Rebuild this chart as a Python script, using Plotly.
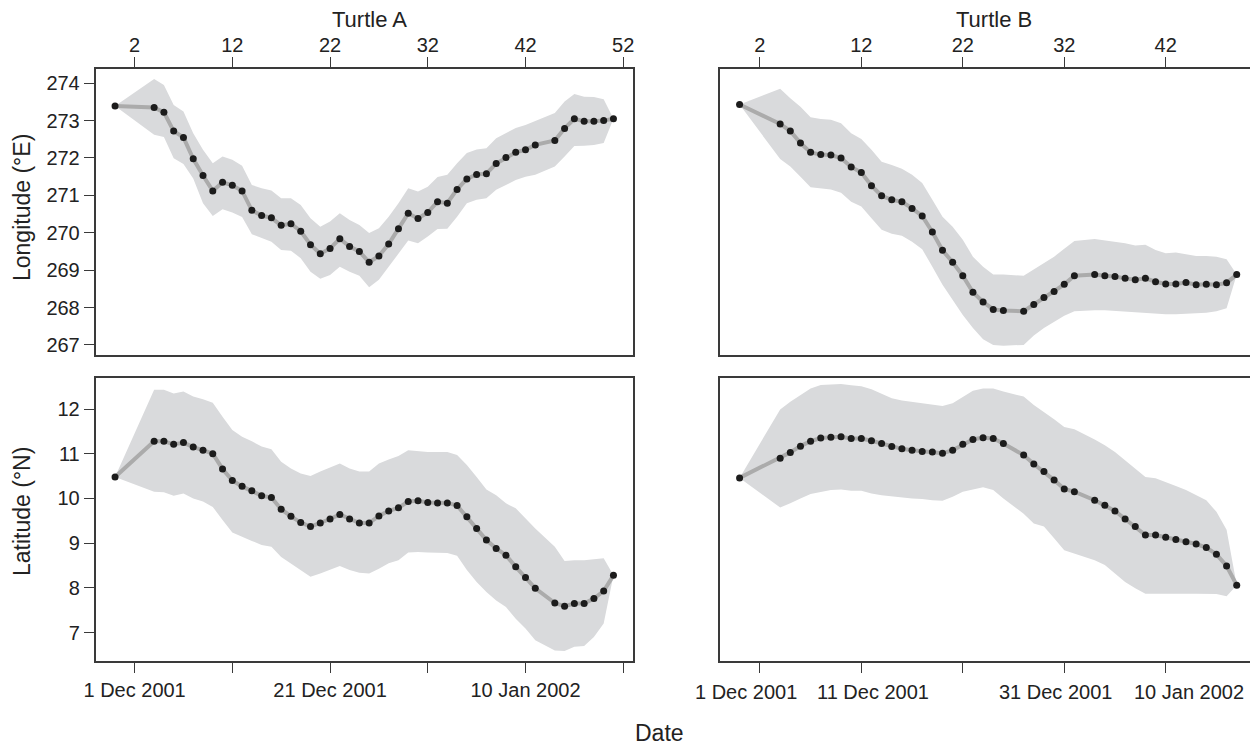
import plotly.graph_objects as go

# ---------------- data ----------------
days_A = [0, 4, 5, 6, 7, 8, 9, 10, 11, 12, 13, 14, 15, 16, 17, 18, 19, 20, 21, 22, 23, 24, 25, 26,
          27, 28, 29, 30, 31, 32, 33, 34, 35, 36, 37, 38, 39, 40, 41, 42, 43, 45, 46, 47, 48, 49, 50, 51]
lon_A = [273.39, 273.35, 273.22, 272.72, 272.55, 271.98, 271.53, 271.12, 271.35, 271.27, 271.12, 270.60,
         270.46, 270.40, 270.20, 270.24, 270.04, 269.68, 269.44, 269.58, 269.84, 269.63, 269.50, 269.21,
         269.38, 269.70, 270.11, 270.52, 270.38, 270.54, 270.83, 270.79, 271.16, 271.44, 271.56, 271.58,
         271.85, 272.01, 272.15, 272.22, 272.35, 272.47, 272.79, 273.05, 272.98, 272.98, 273.00, 273.05]
lon_A_hi = [273.39, 274.11, 273.95, 273.42, 273.24, 272.66, 272.22, 271.86, 272.04, 271.95, 271.79, 271.28,
            271.19, 271.13, 270.92, 270.92, 270.74, 270.39, 270.16, 270.30, 270.52, 270.34, 270.21, 269.99,
            270.12, 270.43, 270.79, 271.19, 271.10, 271.23, 271.49, 271.55, 271.86, 272.13, 272.23, 272.26,
            272.53, 272.66, 272.80, 272.88, 272.99, 273.20, 273.51, 273.71, 273.64, 273.63, 273.57, 273.05]
lon_A_lo = [273.39, 272.62, 272.56, 271.99, 271.84, 271.45, 270.79, 270.45, 270.63, 270.54, 270.42, 269.96,
            269.85, 269.76, 269.54, 269.52, 269.32, 268.96, 268.77, 268.87, 269.09, 268.96, 268.85, 268.54,
            268.74, 269.09, 269.45, 269.79, 269.72, 269.90, 270.10, 270.11, 270.43, 270.79, 270.88, 270.92,
            271.15, 271.28, 271.41, 271.50, 271.55, 271.77, 272.04, 272.32, 272.33, 272.35, 272.40, 273.05]
lat_A = [10.48, 11.28, 11.28, 11.21, 11.25, 11.15, 11.08, 11.00, 10.66, 10.40, 10.27, 10.17,
         10.06, 10.02, 9.76, 9.60, 9.46, 9.37, 9.45, 9.54, 9.64, 9.54, 9.45, 9.45,
         9.61, 9.72, 9.79, 9.93, 9.95, 9.91, 9.90, 9.90, 9.84, 9.59, 9.33, 9.07,
         8.88, 8.73, 8.47, 8.23, 7.99, 7.66, 7.59, 7.65, 7.65, 7.76, 7.93, 8.28]
lat_A_hi = [10.48, 12.43, 12.43, 12.35, 12.39, 12.28, 12.22, 12.14, 11.83, 11.53, 11.38, 11.28,
            11.16, 11.10, 10.82, 10.67, 10.56, 10.50, 10.60, 10.69, 10.78, 10.67, 10.60, 10.60,
            10.78, 10.87, 10.95, 11.08, 11.06, 11.04, 11.04, 11.04, 10.97, 10.75, 10.48, 10.20,
            10.07, 9.89, 9.78, 9.55, 9.33, 8.92, 8.60, 8.62, 8.62, 8.64, 8.66, 8.28]
lat_A_lo = [10.48, 10.15, 10.14, 10.06, 10.11, 10.00, 9.93, 9.81, 9.52, 9.24, 9.14, 9.05,
            8.96, 8.92, 8.69, 8.55, 8.40, 8.25, 8.32, 8.40, 8.49, 8.40, 8.34, 8.32,
            8.43, 8.55, 8.62, 8.79, 8.80, 8.79, 8.78, 8.78, 8.72, 8.40, 8.13, 7.91,
            7.72, 7.57, 7.31, 7.09, 6.83, 6.60, 6.59, 6.68, 6.70, 6.90, 7.20, 8.28]

days_B = [0, 4, 5, 6, 7, 8, 9, 10, 11, 12, 13, 14, 15, 16, 17, 18, 19, 20, 21, 22, 23, 24, 25, 26,
          28, 29, 30, 31, 32, 33, 35, 36, 37, 38, 39, 40, 41, 42, 43, 44, 45, 46, 47, 48, 49]
lon_B = [273.43, 272.91, 272.72, 272.40, 272.15, 272.09, 272.08, 272.00, 271.76, 271.61, 271.26, 270.99,
         270.88, 270.83, 270.65, 270.45, 270.02, 269.53, 269.21, 268.85, 268.41, 268.15, 267.95, 267.92,
         267.90, 268.08, 268.27, 268.43, 268.62, 268.85, 268.88, 268.85, 268.83, 268.78, 268.74, 268.78,
         268.69, 268.63, 268.63, 268.67, 268.61, 268.62, 268.61, 268.66, 268.88]
lon_B_hi = [273.43, 273.85, 273.60, 273.37, 273.09, 273.04, 273.02, 272.93, 272.66, 272.51, 272.22, 271.90,
            271.81, 271.71, 271.55, 271.33, 270.88, 270.43, 270.16, 269.81, 269.36, 269.09, 268.88, 268.88,
            268.85, 269.02, 269.19, 269.36, 269.57, 269.78, 269.83, 269.80, 269.75, 269.72, 269.66, 269.68,
            269.54, 269.45, 269.47, 269.43, 269.38, 269.38, 269.36, 269.29, 268.88]
lon_B_lo = [273.43, 271.97, 271.77, 271.50, 271.22, 271.19, 271.16, 271.07, 270.83, 270.70, 270.39, 270.08,
            269.97, 269.92, 269.76, 269.56, 269.09, 268.61, 268.20, 267.80, 267.45, 267.15, 267.00, 266.98,
            267.00, 267.25, 267.45, 267.62, 267.78, 267.90, 267.93, 267.93, 267.91, 267.89, 267.88, 267.86,
            267.84, 267.82, 267.82, 267.82, 267.84, 267.86, 267.90, 267.98, 268.88]
lat_B = [10.46, 10.90, 11.03, 11.17, 11.28, 11.35, 11.37, 11.38, 11.34, 11.34, 11.29, 11.23,
         11.16, 11.11, 11.08, 11.05, 11.04, 11.01, 11.08, 11.21, 11.32, 11.36, 11.34, 11.23,
         10.97, 10.77, 10.60, 10.41, 10.21, 10.15, 9.96, 9.85, 9.72, 9.54, 9.37, 9.18,
         9.18, 9.13, 9.08, 9.03, 8.98, 8.90, 8.75, 8.49, 8.06]
lat_B_hi = [10.46, 11.99, 12.16, 12.31, 12.46, 12.54, 12.55, 12.56, 12.53, 12.51, 12.44, 12.34,
            12.24, 12.19, 12.16, 12.13, 12.10, 12.07, 12.13, 12.28, 12.41, 12.46, 12.46, 12.39,
            12.28, 12.09, 11.94, 11.77, 11.60, 11.55, 11.32, 11.19, 11.04, 10.86, 10.67, 10.48,
            10.45, 10.37, 10.28, 10.19, 10.07, 9.96, 9.70, 9.30, 8.06]
lat_B_lo = [10.46, 9.80, 9.89, 10.00, 10.10, 10.15, 10.19, 10.20, 10.17, 10.17, 10.11, 10.07,
            10.04, 10.02, 10.00, 9.99, 9.96, 9.95, 10.04, 10.15, 10.20, 10.25, 10.19, 10.00,
            9.66, 9.44, 9.37, 9.11, 8.84, 8.77, 8.62, 8.51, 8.32, 8.13, 7.99, 7.87,
            7.87, 7.87, 7.87, 7.87, 7.87, 7.87, 7.86, 7.81, 8.06]

top_ticks_A = [2, 12, 22, 32, 42, 52]
top_ticks_B = [2, 12, 22, 32, 42]
date_labels_A = ["1 Dec 2001", "", "21 Dec 2001", "", "10 Jan 2002", ""]
date_labels_B = ["1 Dec 2001", "11 Dec 2001", "", "31 Dec 2001", "10 Jan 2002"]
lon_ticks = [267, 268, 269, 270, 271, 272, 273, 274]
lat_ticks = [7, 8, 9, 10, 11, 12]

# ---------------- style ----------------
FONT = "Liberation Sans, Arial, Helvetica, sans-serif"
INK = "#222222"
FRAME = "#3a3a3a"
BAND = "#d9dadc"
TRACK = "#ababab"
DOT = "#1c1c1c"

fig = go.Figure()


def add_panel(days, val, hi, lo, xa, ya):
    fig.add_trace(go.Scatter(x=list(days) + list(days)[::-1], y=list(hi) + list(lo)[::-1],
                             fill="toself", fillcolor=BAND, line=dict(width=0), mode="lines",
                             hoverinfo="skip", showlegend=False, xaxis=xa, yaxis=ya))
    fig.add_trace(go.Scatter(x=days, y=val, mode="lines+markers",
                             line=dict(color=TRACK, width=4),
                             marker=dict(color=DOT, size=7, line=dict(width=0)),
                             showlegend=False, xaxis=xa, yaxis=ya))


add_panel(days_A, lon_A, lon_A_hi, lon_A_lo, "x", "y")
add_panel(days_B, lon_B, lon_B_hi, lon_B_lo, "x2", "y2")
add_panel(days_A, lat_A, lat_A_hi, lat_A_lo, "x3", "y3")
add_panel(days_B, lat_B, lat_B_hi, lat_B_lo, "x4", "y4")

# page is 1258x747; the html body has an 8px margin, so the figure is 1250x739
PAGE_W, PAGE_H, OFF = 1258, 747, 8
W, H = PAGE_W - OFF, PAGE_H - OFF


def px(xp):
    return (xp - OFF) / W


def py(yp):
    return (PAGE_H - yp) / H


xdomA = [px(95.5), px(633)]
xdomB = [px(720), px(1256)]
ydomT = [py(355), py(69)]
ydomB = [py(661), py(378)]

common_axis = dict(showline=True, mirror=True, linecolor=FRAME, linewidth=1.5,
                   showgrid=False, zeroline=False, tickcolor=FRAME, tickwidth=1.3,
                   automargin=False,
                   tickfont=dict(family=FONT, size=20, color=INK))

rangeA = [-2.0, 53.0]
rangeB = [-1.93, 50.9]
rangeLon = [266.73, 274.38]
rangeLat = [6.364, 12.694]

fig.update_layout(
    width=W, height=H, margin=dict(l=0, r=0, t=0, b=0, autoexpand=False),
    paper_bgcolor="white", plot_bgcolor="white",
    font=dict(family=FONT, color=INK),
    xaxis=dict(domain=xdomA, anchor="y", side="top", range=rangeA, tickmode="array",
               tickvals=top_ticks_A, ticktext=[str(t) for t in top_ticks_A],
               ticks="outside", ticklen=10, tickangle=0, ticklabelstandoff=-3, **common_axis),
    yaxis=dict(domain=ydomT, anchor="x", range=rangeLon, tickmode="array", tickvals=lon_ticks,
               ticks="outside", ticklen=10, **common_axis),
    xaxis2=dict(domain=xdomB, anchor="y2", side="top", range=rangeB, tickmode="array",
                tickvals=top_ticks_B, ticktext=[str(t) for t in top_ticks_B],
                ticks="outside", ticklen=10, tickangle=0, ticklabelstandoff=-3, **common_axis),
    yaxis2=dict(domain=ydomT, anchor="x2", range=rangeLon, ticks="", showticklabels=False,
                **common_axis),
    xaxis3=dict(domain=xdomA, anchor="y3", side="bottom", range=rangeA, tickmode="array",
                tickvals=top_ticks_A, ticktext=date_labels_A,
                ticks="outside", ticklen=10, tickangle=0, **common_axis),
    yaxis3=dict(domain=ydomB, anchor="x3", range=rangeLat, tickmode="array", tickvals=lat_ticks,
                ticks="outside", ticklen=10, **common_axis),
    xaxis4=dict(domain=xdomB, anchor="y4", side="bottom", range=rangeB, tickmode="array",
                tickvals=top_ticks_B, ticktext=["" for _ in top_ticks_B],
                ticks="outside", ticklen=10, tickangle=0, **common_axis),
    yaxis4=dict(domain=ydomB, anchor="x4", range=rangeLat, ticks="", showticklabels=False,
                **common_axis),
)

# right-bottom date labels (nudged apart as in the original)
label_shift_B = [-14, 12, 0, -9, 23]
for tv, txt, sh in zip(top_ticks_B, date_labels_B, label_shift_B):
    if txt:
        fig.add_annotation(x=tv, xref="x4", y=py(692), yref="paper", text=txt,
                           showarrow=False, xshift=sh, xanchor="center", yanchor="middle",
                           font=dict(family=FONT, size=20, color=INK))

title_font = dict(family=FONT, size=22, color=INK)
fig.add_annotation(x=px(369), y=py(20), xref="paper", yref="paper", text="Turtle A",
                   showarrow=False, font=title_font, xanchor="center", yanchor="middle")
fig.add_annotation(x=px(994), y=py(20), xref="paper", yref="paper", text="Turtle B",
                   showarrow=False, font=title_font, xanchor="center", yanchor="middle")
fig.add_annotation(x=px(660), y=py(733), xref="paper", yref="paper", text="Date",
                   showarrow=False, font=dict(family=FONT, size=23, color=INK),
                   xanchor="center", yanchor="middle")
fig.add_annotation(x=px(22), y=py(208), xref="paper", yref="paper", text="Longitude (°E)",
                   showarrow=False, font=dict(family=FONT, size=23, color=INK), textangle=-90,
                   xanchor="center", yanchor="middle")
fig.add_annotation(x=px(22), y=py(512), xref="paper", yref="paper", text="Latitude (°N)",
                   showarrow=False, font=dict(family=FONT, size=23, color=INK), textangle=-90,
                   xanchor="center", yanchor="middle")

fig.write_html("out.html")
